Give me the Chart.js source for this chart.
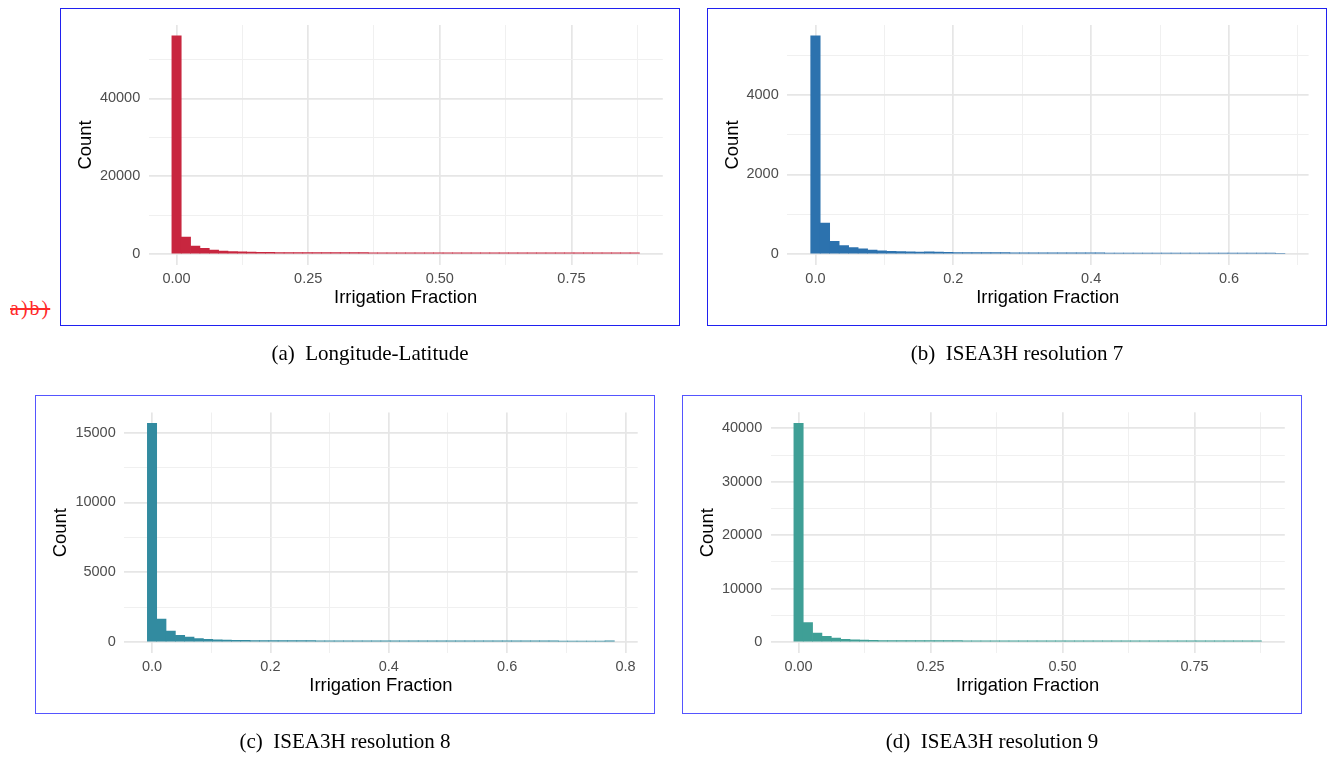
<!DOCTYPE html>
<html>
<head>
<meta charset="utf-8">
<script src="https://cdn.jsdelivr.net/npm/chart.js@4.4.1/dist/chart.umd.min.js"></script>
<style>
  html, body { margin: 0; padding: 0; background: #ffffff; }
  body { width: 1327px; height: 758px; position: relative; overflow: hidden; }
  .panel { position: absolute; }
  .panel canvas { position: absolute; left: 0; top: 0; }
  .frame { position: absolute; left: 0; top: 0; right: 0; bottom: 0; box-sizing: border-box; border: 1px solid #2020f0; pointer-events: none; }
  .frame.lower { border-color: #5555ff; }
  .caption { position: absolute; font-family: "Liberation Serif", "Times New Roman", serif; font-size: 21px; line-height: 21px; color: #000; text-align: center; white-space: pre; }
  .stray { position: absolute; left: 10px; top: 298px; font-family: "Liberation Serif", "Times New Roman", serif; font-size: 20px; line-height: 20px; color: #ff2a2a; text-decoration: line-through; letter-spacing: 2px; white-space: pre; }
</style>
</head>
<body>
<div class="stray">a)b)</div>
<script>
// Histogram counts (50 bins each), first bin centred on 0
const countsA = [56080, 4350, 2050, 1450, 1000, 780, 640, 560, 500, 460,
                 430, 410, 400, 390, 385, 380, 375, 370, 365, 360,
                 360, 355, 350, 350, 345, 345, 340, 340, 335, 335,
                 330, 330, 330, 325, 325, 320, 320, 320, 315, 315,
                 315, 310, 310, 310, 305, 305, 305, 300, 300, 330];
const countsB = [5480, 780, 320, 215, 165, 130, 100, 82, 68, 60,
                 54, 50, 56, 52, 42, 40, 39, 38, 37, 36,
                 35, 34, 33, 32, 32, 31, 31, 30, 30, 29,
                 29, 28, 28, 28, 27, 27, 27, 26, 26, 26,
                 25, 25, 25, 24, 24, 24, 23, 23, 23, 22];
const countsC = [15650, 1650, 790, 480, 360, 250, 195, 160, 140, 128,
                 120, 114, 110, 106, 104, 102, 100, 98, 96, 95,
                 94, 93, 92, 91, 90, 89, 88, 88, 87, 86,
                 86, 85, 85, 84, 84, 83, 83, 82, 82, 81,
                 81, 80, 80, 80, 79, 79, 78, 78, 77, 80];
const countsD = [40950, 3650, 1700, 1080, 750, 500, 400, 350, 320, 300,
                 290, 282, 276, 270, 266, 262, 258, 255, 252, 250,
                 248, 246, 244, 242, 240, 238, 237, 236, 235, 234,
                 233, 232, 231, 230, 229, 228, 227, 226, 225, 224,
                 223, 222, 221, 220, 219, 218, 217, 216, 215, 235];

// Bin widths of the irrigation-fraction histograms
const binWidthA = 0.01776;
const binWidthB = 0.01376;
const binWidthC = 0.01578;
const binWidthD = 0.01771;

// Axis breaks (labelled) and minor grid positions
const xMajorA = [0, 0.25, 0.5, 0.75];      const xMinorA = [0.125, 0.375, 0.625, 0.875];
const yMajorA = [0, 20000, 40000];          const yMinorA = [10000, 30000, 50000];
const xMajorB = [0, 0.2, 0.4, 0.6];         const xMinorB = [0.1, 0.3, 0.5, 0.7];
const yMajorB = [0, 2000, 4000];            const yMinorB = [1000, 3000, 5000];
const xMajorC = [0, 0.2, 0.4, 0.6, 0.8];    const xMinorC = [0.1, 0.3, 0.5, 0.7];
const yMajorC = [0, 5000, 10000, 15000];    const yMinorC = [2500, 7500, 12500];
const xMajorD = [0, 0.25, 0.5, 0.75];      const xMinorD = [0.125, 0.375, 0.625, 0.875];
const yMajorD = [0, 10000, 20000, 30000, 40000]; const yMinorD = [5000, 15000, 25000, 35000];

const captionLabels = ['(a)', '(b)', '(c)', '(d)'];
const captionTitles = ['Longitude-Latitude', 'ISEA3H resolution 7', 'ISEA3H resolution 8', 'ISEA3H resolution 9'];
const xTitle = 'Irrigation Fraction';
const yTitle = 'Count';

// Panel placement: frame box and plot area inside it (canvas pixels)
const layoutTable = [
  { left: 60,  top: 8,   w: 620, h: 318, L: 88.5, R: 602.8, T: 15.3, B: 257, lower: false, capTop: 343 },
  { left: 707, top: 8,   w: 620, h: 318, L: 80.0, R: 601.6, T: 15.3, B: 257, lower: false, capTop: 343 },
  { left: 35,  top: 395, w: 620, h: 319, L: 89.0, R: 602.7, T: 17.5, B: 258, lower: true,  capTop: 731 },
  { left: 682, top: 395, w: 620, h: 319, L: 88.5, R: 602.8, T: 17.3, B: 258, lower: true,  capTop: 731 }
];

const panels = [
  { counts: countsA, binWidth: binWidthA, color: '#C8263F', xMajor: xMajorA, xMinor: xMinorA, yMajor: yMajorA, yMinor: yMinorA, xDigits: 2 },
  { counts: countsB, binWidth: binWidthB, color: '#2C72AE', xMajor: xMajorB, xMinor: xMinorB, yMajor: yMajorB, yMinor: yMinorB, xDigits: 1 },
  { counts: countsC, binWidth: binWidthC, color: '#328BA0', xMajor: xMajorC, xMinor: xMinorC, yMajor: yMajorC, yMinor: yMinorC, xDigits: 1 },
  { counts: countsD, binWidth: binWidthD, color: '#3F9F96', xMajor: xMajorD, xMinor: xMinorD, yMajor: yMajorD, yMinor: yMinorD, xDigits: 2 }
];

const sansFamily = '"Liberation Sans", Arial, Helvetica, sans-serif';
const isIn = (list, v) => list.some(m => Math.abs(m - v) < 1e-9);
const gridColor = (list) => (c) => (c.tick && isIn(list, c.tick.value)) ? '#E6E6E6' : '#F0F0F0';
const gridWidth = (list) => (c) => (c.tick && isIn(list, c.tick.value)) ? 1.7 : 1;

panels.forEach((p, idx) => {
  const box = layoutTable[idx];
  const wrap = document.createElement('div');
  wrap.className = 'panel';
  wrap.style.left = box.left + 'px';
  wrap.style.top = box.top + 'px';
  wrap.style.width = box.w + 'px';
  wrap.style.height = box.h + 'px';
  const cv = document.createElement('canvas');
  cv.width = box.w; cv.height = box.h;
  cv.style.width = box.w + 'px'; cv.style.height = box.h + 'px';
  wrap.appendChild(cv);
  const frame = document.createElement('div');
  frame.className = 'frame' + (box.lower ? ' lower' : '');
  wrap.appendChild(frame);
  document.body.appendChild(wrap);

  const cap = document.createElement('div');
  cap.className = 'caption';
  cap.style.left = box.left + 'px';
  cap.style.width = box.w + 'px';
  cap.style.top = box.capTop + 'px';
  cap.textContent = captionLabels[idx] + '  ' + captionTitles[idx];
  document.body.appendChild(cap);

  // ggplot-style limits: bin extent plus 5% expansion
  const n = p.counts.length;
  const lo = -p.binWidth / 2;
  const hi = (n - 1) * p.binWidth + p.binWidth / 2;
  const span = hi - lo;
  const peak = Math.max(...p.counts);
  const xTicks = [...p.xMajor, ...p.xMinor].sort((a, b) => a - b);
  const yTicks = [...p.yMajor, ...p.yMinor].sort((a, b) => a - b);

  new Chart(cv, {
    type: 'bar',
    data: {
      datasets: [{
        data: p.counts.map((c, i) => ({ x: i * p.binWidth, y: c })),
        backgroundColor: p.color,
        borderWidth: 0,
        barPercentage: 1,
        categoryPercentage: 1
      }]
    },
    options: {
      responsive: false,
      animation: false,
      events: [],
      layout: { padding: { left: 0, top: box.T, right: box.w - box.R, bottom: 0 } },
      plugins: { legend: { display: false }, tooltip: { enabled: false } },
      scales: {
        x: {
          type: 'linear',
          min: lo - 0.05 * span,
          max: hi + 0.05 * span,
          offset: false,
          afterBuildTicks: (s) => { s.ticks = xTicks.map(v => ({ value: v })); },
          afterFit: (s) => { s.height = box.h - box.B; },
          ticks: {
            autoSkip: false, maxRotation: 0, minRotation: 0, padding: 5,
            color: '#4D4D4D', font: { family: sansFamily, size: 14.5 },
            callback: (v) => isIn(p.xMajor, v) ? Number(v).toFixed(p.xDigits) : ''
          },
          grid: { offset: false, drawTicks: false, color: gridColor(p.xMajor), lineWidth: gridWidth(p.xMajor) },
          border: { display: false },
          title: { display: true, text: xTitle, color: '#000000', font: { family: sansFamily, size: 18.4, lineHeight: 1.2 }, padding: { top: 0, bottom: 16.8 } }
        },
        y: {
          min: -0.05 * peak,
          max: 1.05 * peak,
          afterBuildTicks: (s) => { s.ticks = yTicks.map(v => ({ value: v })); },
          afterFit: (s) => { s.width = box.L; },
          ticks: {
            autoSkip: false, padding: 8.3,
            color: '#4D4D4D', font: { family: sansFamily, size: 14.5 },
            callback: (v) => isIn(p.yMajor, v) ? String(v) : ''
          },
          grid: { drawTicks: false, color: gridColor(p.yMajor), lineWidth: gridWidth(p.yMajor) },
          border: { display: false },
          title: { display: true, text: yTitle, color: '#000000', font: { family: sansFamily, size: 18.4, lineHeight: 1.2 }, padding: { top: 15, bottom: 0 } }
        }
      }
    }
  });
});
</script>
</body>
</html>
